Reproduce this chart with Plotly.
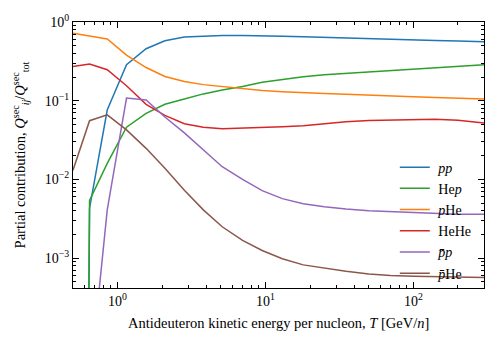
import numpy as np
import plotly.graph_objects as go

# kinetic energy per nucleon grid [GeV/n]
T = [0.5, 0.647, 0.852, 1.15, 1.56, 2.09, 2.83, 3.8, 5.1, 7.0, 9.5, 13, 18,
     25, 35, 50, 70, 100, 140, 200, 300]

# partial contributions (1e-30 stands for a zero contribution)
pp = [1e-30, 0.0043, 0.076, 0.286, 0.457, 0.578, 0.644, 0.665, 0.675, 0.675,
      0.672, 0.660, 0.648, 0.635, 0.622, 0.612, 0.603, 0.592, 0.582, 0.572, 0.562]
hep = [1e-30, 0.0054, 0.016, 0.046, 0.069, 0.090, 0.105, 0.122, 0.137, 0.152,
       0.172, 0.188, 0.202, 0.213, 0.222, 0.232, 0.242, 0.254, 0.265, 0.276, 0.286]
phe = [0.72, 0.665, 0.61, 0.38, 0.264, 0.203, 0.175, 0.16, 0.151, 0.142,
       0.135, 0.130, 0.126, 0.123, 0.121, 0.117, 0.114, 0.112, 0.110, 0.107, 0.105]
hehe = [0.272, 0.292, 0.247, 0.155, 0.090, 0.065, 0.051, 0.046, 0.044, 0.0445,
        0.0455, 0.0465, 0.048, 0.051, 0.054, 0.056, 0.057, 0.0575, 0.058, 0.0565, 0.052]
pbarp = [1e-30, 2.5e-5, 0.0041, 0.108, 0.102, 0.062, 0.039, 0.024, 0.0145, 0.010,
         0.0072, 0.0057, 0.0049, 0.0045, 0.0042, 0.0040, 0.0039, 0.0038, 0.0037, 0.0036, 0.0036]
pbarhe = [0.0131, 0.0557, 0.066, 0.0425, 0.0248, 0.0139, 0.0073, 0.0041, 0.0025, 0.00168,
          0.00125, 0.00098, 0.00082, 0.00074, 0.00068, 0.00063, 0.0006, 0.00059, 0.00058,
          0.00057, 0.000565]

series = [
    ("<i>pp</i>", pp, "#1f77b4"),
    ("He<i>p</i>", hep, "#2ca02c"),
    ("<i>p</i>He", phe, "#ff7f0e"),
    ("HeHe", hehe, "#d62728"),
    ("<i>p̄p</i>", pbarp, "#9467bd"),
    ("<i>p̄</i>He", pbarhe, "#8c564b"),
]

xticks = [1, 10, 100]
xticklabels = ["10<sup>0</sup>", "10<sup>1</sup>", "10<sup>2</sup>"]
yticks = [1e-3, 1e-2, 1e-1, 1]
yticklabels = ["10<sup>−3</sup>", "10<sup>−2</sup>", "10<sup>−1</sup>", "10<sup>0</sup>"]

fig = go.Figure()
for name, vals, color in series:
    fig.add_trace(go.Scatter(x=T, y=vals, name=" " + name, mode="lines",
                             line=dict(color=color, width=1.5)))

font = "Liberation Serif"
x_minor = [v * d for d in (0.1, 1, 10, 100) for v in range(2, 10)]
x_minor = [v for v in x_minor if 0.5 <= v <= 300]
y_minor = [v * d for d in (1e-4, 1e-3, 1e-2, 1e-1) for v in range(2, 10)]

axis_common = dict(
    type="log", showgrid=False, zeroline=False, automargin=False,
    showline=True, linecolor="black", linewidth=1, mirror="allticks",
    ticks="inside", ticklen=6, tickwidth=1, tickcolor="black",
    tickfont=dict(family=font, size=14, color="black"),
)

fig.update_xaxes(
    **axis_common,
    range=[np.log10(0.5), np.log10(300)],
    tickmode="array", tickvals=xticks, ticktext=xticklabels,
    minor=dict(ticks="inside", ticklen=3, tickcolor="black", tickmode="array",
               tickvals=x_minor),
)
fig.update_yaxes(
    **axis_common,
    range=[-3.38, 0],
    tickmode="array", tickvals=yticks, ticktext=yticklabels,
    minor=dict(ticks="inside", ticklen=3, tickcolor="black", tickmode="array",
               tickvals=y_minor),
)

# page body adds an 8px offset, so the figure is slightly smaller than the window
fig.update_layout(
    width=492, height=342,
    margin=dict(l=65, r=16, t=14, b=62),
    paper_bgcolor="white", plot_bgcolor="white",
    font=dict(family=font, size=13, color="black"),
    showlegend=True,
    legend=dict(x=0.783, y=0.513, xanchor="left", yanchor="top",
                bgcolor="rgba(0,0,0,0)", font=dict(family=font, size=14),
                tracegroupgap=0),
)

# axis titles placed as annotations for exact positioning
fig.add_annotation(
    text="Antideuteron kinetic energy per nucleon, <i>T</i> [GeV/<i>n</i>]",
    xref="paper", yref="paper", x=0.5, y=-0.13, xanchor="center", yanchor="middle",
    showarrow=False, font=dict(family=font, size=14.5, color="black"),
)
fig.add_annotation(
    text="Partial contribution, <i>Q</i><sup>sec</sup><sub><i>ij</i></sub>/<i>Q</i><sup>sec</sup><sub>tot</sub>",
    xref="paper", yref="paper", x=-0.128, y=0.5, xanchor="center", yanchor="middle",
    textangle=-90, showarrow=False, font=dict(family=font, size=14.5, color="black"),
)

fig.write_html("out.html")
